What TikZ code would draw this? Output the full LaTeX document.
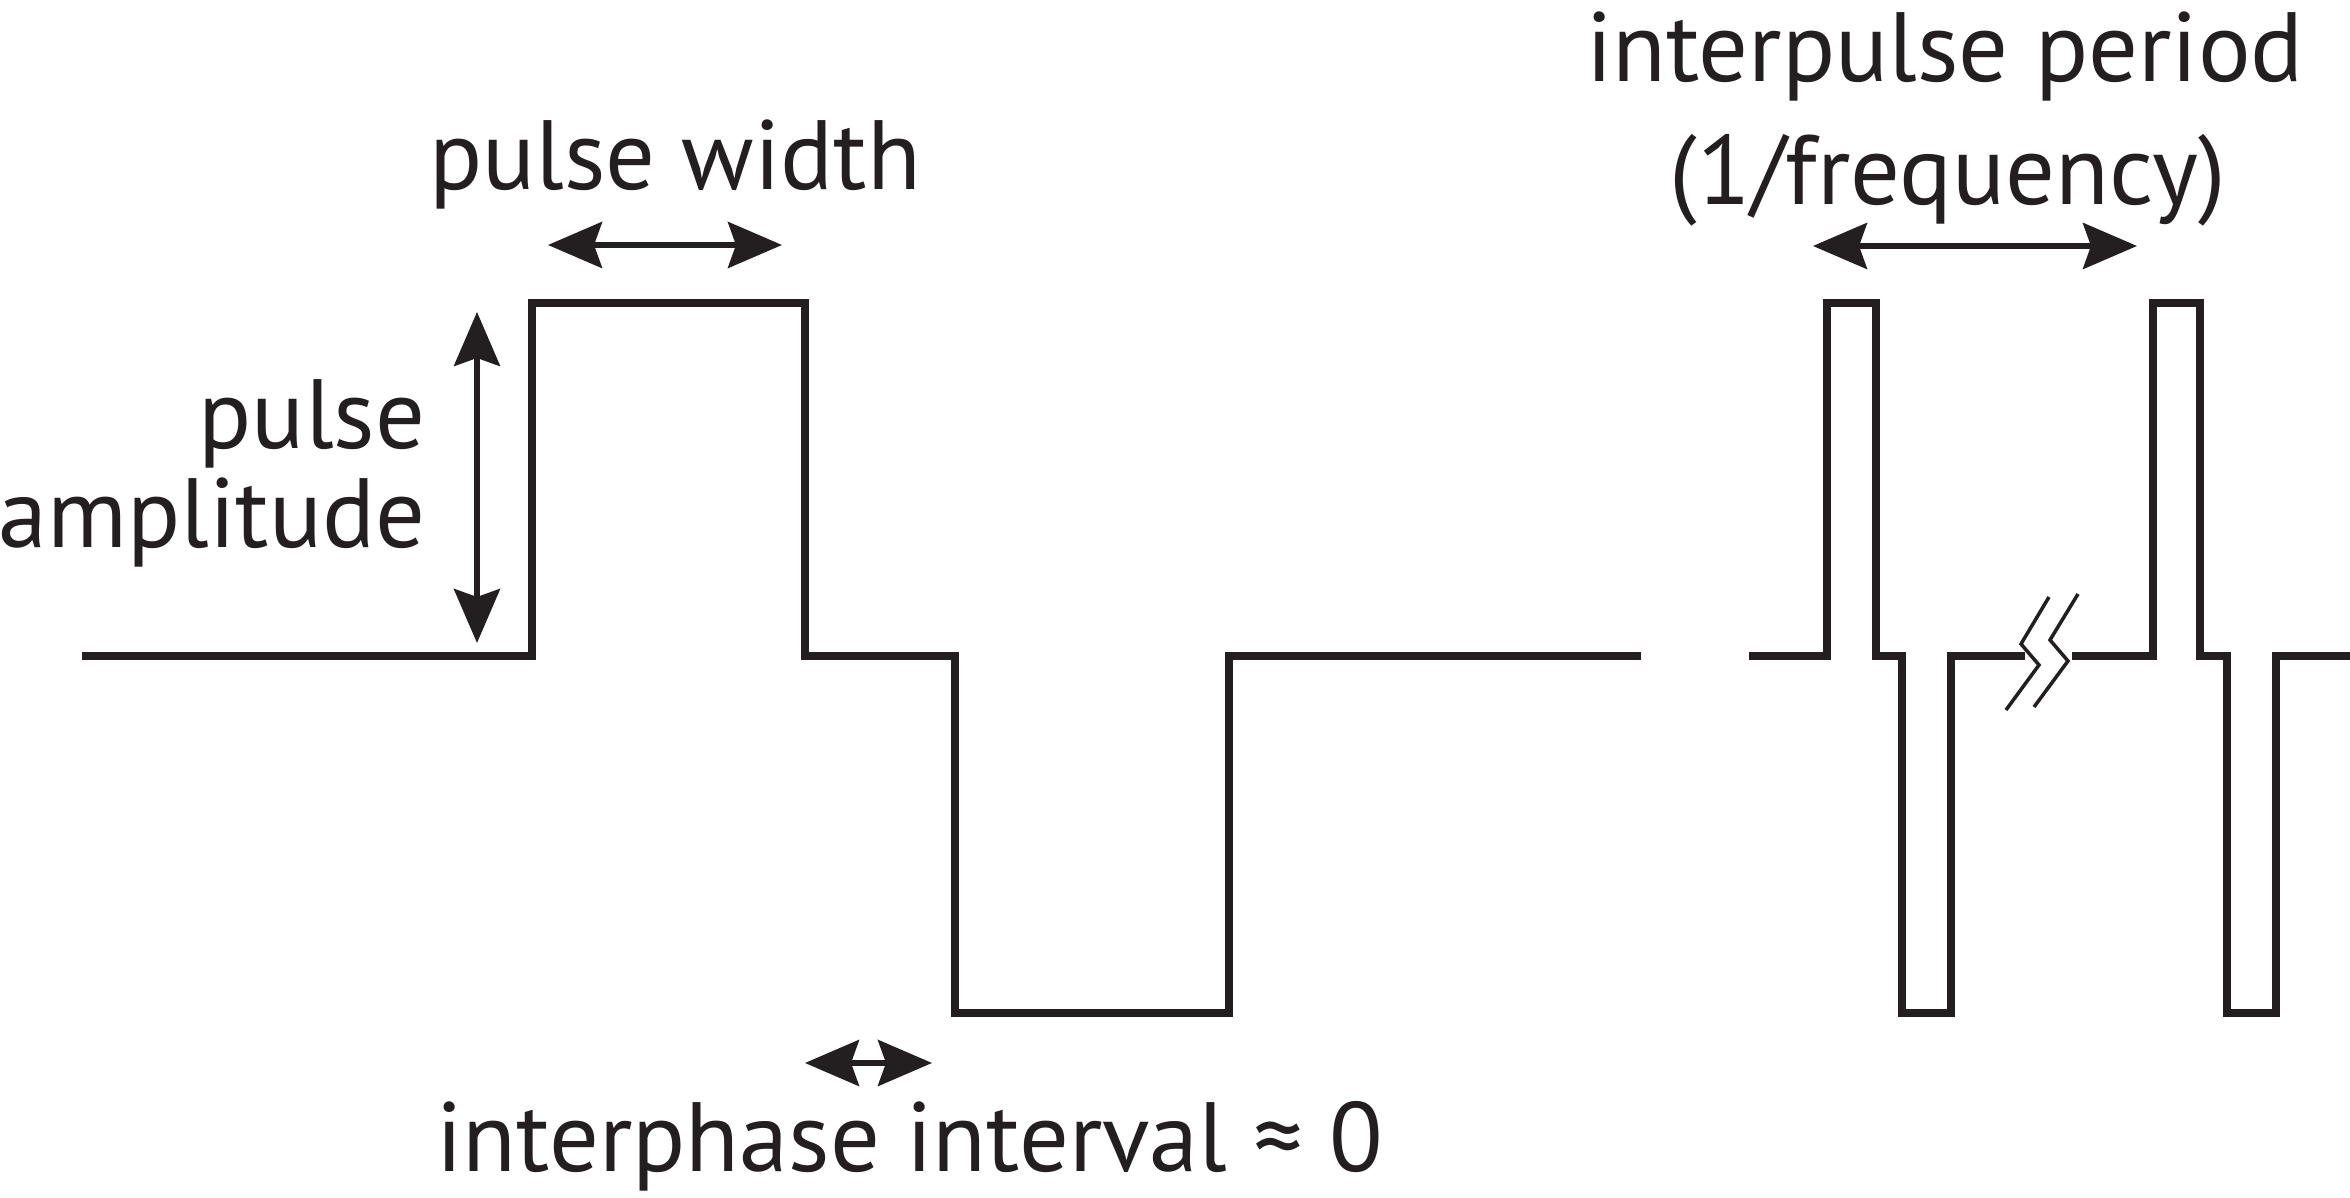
\documentclass[tikz,border=0pt]{standalone}
\usepackage{fontspec}
\setmainfont{PT Sans}
\usetikzlibrary{arrows.meta,positioning}
\definecolor{ink}{RGB}{35,31,32}

\begin{document}
\begin{tikzpicture}[x=0.01cm,y=-0.01cm,
    wave/.style={draw=ink,line width=2pt},
    span/.style={draw=ink,line width=1.5pt,
      {Stealth[length=0.54cm,width=0.46cm,inset=0.08cm]}-{Stealth[length=0.54cm,width=0.46cm,inset=0.08cm]}},
    brk/.style={draw=ink,line width=1pt},
    lbl/.style={text=ink,inner sep=0pt,font=\fontsize{28}{28.2}\selectfont}]
  \useasboundingbox (0,0) rectangle (2350,1198);
  % waveform
  \draw[wave] (82,656) -- (532,656) -- (532,303) -- (805,303) -- (805,656)
    -- (955,656) -- (955,1013) -- (1229,1013) -- (1229,656) -- (1641,656);
  \draw[wave] (1749,656) -- (1827,656) -- (1827,303) -- (1876,303) -- (1876,656)
    -- (1902,656) -- (1902,1013) -- (1951,1013) -- (1951,656) -- (2025,656);
  \draw[wave] (2072,656) -- (2153,656) -- (2153,303) -- (2200,303) -- (2200,656)
    -- (2227,656) -- (2227,1013) -- (2276,1013) -- (2276,656) -- (2350,656);
  % break
  \draw[brk] (2049,597) -- (2021,644) -- (2039,665) -- (2006,710);
  \draw[brk] (2078,594) -- (2050,640) -- (2068,661) -- (2034,707);
  % arrows
  \coordinate (w1) at (548,245);
  \coordinate (w2) at (782,245);
  \coordinate (a1) at (477,312);
  \coordinate (a2) at (477,643);
  \coordinate (g1) at (805,1063);
  \coordinate (g2) at (932,1063);
  \coordinate (p1) at (1813,246);
  \coordinate (p2) at (2137,246);
  \draw[span] (w1) -- (w2);
  \draw[span] (a1) -- (a2);
  \draw[span] (g1) -- (g2);
  \draw[span] (p1) -- (p2);
  % labels
  \node[lbl,anchor=base] (lw) at (675,190) {pulse width};
  \node[lbl,anchor=base east] (la1) at (426,449) {pulse};
  \node[lbl,anchor=base east] (la2) at (426,548) {amplitude};
  \node[lbl,anchor=base] (lp1) at (1945,82) {interpulse period};
  \node[lbl,anchor=base] (lp2) at (1948,205) {(1/frequency)};
  \node[lbl,anchor=base] (lg) at (910,1172) {interphase interval ≈ 0};
\end{tikzpicture}
\end{document}
